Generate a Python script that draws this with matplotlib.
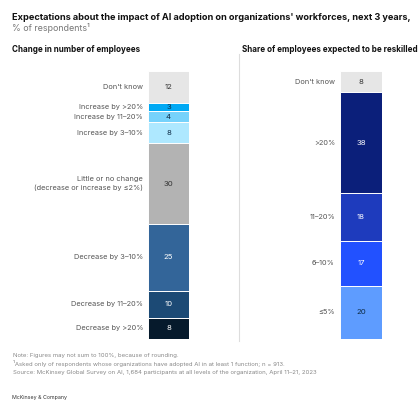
import matplotlib
matplotlib.use("Agg")
import matplotlib.pyplot as plt
import numpy as np

plt.rcParams['font.family'] = ['Inter', 'DejaVu Sans']

# left panel: change in number of employees (top to bottom)
change_labels = ["Don't know", "Increase by >20%", "Increase by 11–20%", "Increase by 3–10%",
                 "Little or no change\n(decrease or increase by ≤2%)",
                 "Decrease by 3–10%", "Decrease by 11–20%", "Decrease by >20%"]
change_values = [12, 3, 4, 8, 30, 25, 10, 8]
change_colors = ["#e6e6e6", "#00a9f4", "#76d2fb", "#aee8ff", "#b3b3b3",
                 "#336599", "#1c4a75", "#061a2c"]
change_text = ["#333333", "#0d2b45", "#0d2b45", "#0d2b45", "#333333",
               "white", "white", "white"]

# right panel: share of employees expected to be reskilled
reskill_labels = ["Don't know", ">20%", "11–20%", "6–10%", "≤5%"]
reskill_values = [8, 38, 18, 17, 20]
reskill_colors = ["#e6e6e6", "#0b1f7a", "#1e3bbd", "#2251ff", "#5e9cff"]
reskill_text = ["#333333", "white", "white", "white", "#0d2b45"]

W, H = 418, 400
fig = plt.figure(figsize=(W / 100, H / 100), dpi=100)


def px_axes(x0, y0, x1, y1):
    return fig.add_axes([x0 / W, 1 - y1 / H, (x1 - x0) / W, (y1 - y0) / H])


def stacked(ax, labels, values, colors, tcolors):
    total = sum(values)
    bottoms = np.cumsum([0] + values[:-1])
    ax.bar([0] * len(values), values, bottom=bottoms, width=1, color=colors,
           edgecolor="white", linewidth=0.7)
    ax.set_xlim(-0.5, 0.5)
    ax.set_ylim(total, 0)
    ax.axis("off")
    for lab, v, b, tc in zip(labels, values, bottoms, tcolors):
        mid = b + v / 2
        ax.text(0, mid, str(v), ha="center", va="center", fontsize=5.6, color=tc)
        ax.text(-0.62, mid, lab, ha="right", va="center", fontsize=5.3,
                color="#555555", linespacing=1.3)


ax1 = px_axes(148, 71, 189, 339)
stacked(ax1, change_labels, change_values, change_colors, change_text)

ax2 = px_axes(340, 71, 382, 339)
stacked(ax2, reskill_labels, reskill_values, reskill_colors, reskill_text)

# divider between the two panels
fig.add_artist(plt.Line2D([238.5 / W] * 2, [1 - 54 / H, 1 - 341 / H],
                          color="#dddddd", linewidth=0.8))

fig.text(12 / W, 1 - 17 / H,
         "Expectations about the impact of AI adoption on organizations' workforces, next 3 years,",
         fontsize=6.6, fontweight="bold", color="#111111", va="center")
fig.text(12 / W, 1 - 28 / H, "% of respondents¹", fontsize=6.4, color="#777777", va="center")
fig.text(12 / W, 1 - 49 / H, "Change in number of employees", fontsize=5.8,
         fontweight="bold", color="#111111", va="center")
fig.text(242 / W, 1 - 49 / H, "Share of employees expected to be reskilled", fontsize=5.8,
         fontweight="bold", color="#111111", va="center")

notes = ["Note: Figures may not sum to 100%, because of rounding.",
         "¹Asked only of respondents whose organizations have adopted AI in at least 1 function; n = 913.",
         "Source: McKinsey Global Survey on AI, 1,684 participants at all levels of the organization, April 11–21, 2023"]
for i, n in enumerate(notes):
    fig.text(13 / W, 1 - (355.5 + 8.3 * i) / H, n, fontsize=4.35, color="#888888", va="center")
fig.text(12 / W, 1 - 397 / H, "McKinsey & Company", fontsize=3.8, color="#333333", va="center")

fig.savefig("out.png", dpi=100, facecolor="white")
